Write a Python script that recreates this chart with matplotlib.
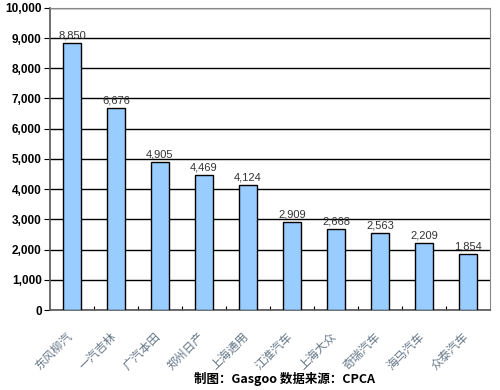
import matplotlib
matplotlib.use("Agg")
import matplotlib.pyplot as plt
from matplotlib.ticker import FuncFormatter
from matplotlib.transforms import offset_copy

plt.rcParams['font.family'] = ['Noto Sans CJK SC', 'DejaVu Sans']

brands = ["东风柳汽", "一汽吉林", "广汽本田", "郑州日产", "上海通用",
          "江淮汽车", "上海大众", "奇瑞汽车", "海马汽车", "众泰汽车"]
sales = [8850, 6676, 4905, 4469, 4124, 2909, 2668, 2563, 2209, 1854]

fig = plt.figure(figsize=(5, 3.9), dpi=100)
ax = fig.add_axes([0.1, 0.205, 0.88, 0.775])

x = range(len(brands))
ax.bar(x, sales, width=0.4, color="#99ccff", edgecolor="black", linewidth=1, zorder=3)
for i, v in enumerate(sales):
    ax.text(i, v + 80, f"{v:,}", ha="center", va="bottom", fontsize=8,
            color="#333333", family=["Liberation Sans", "DejaVu Sans"])

ax.set_xlim(-0.5, len(brands) - 0.5)
ax.set_ylim(0, 10000)
ax.set_yticks(range(0, 10001, 1000))
ax.yaxis.set_major_formatter(FuncFormatter(lambda v, p: f"{int(v):,}"))
ax.yaxis.grid(True, color="black", linewidth=1, zorder=0)
for lab in ax.get_yticklabels():
    lab.set_fontweight("bold")
    lab.set_fontsize(8.5)
    lab.set_family(["Liberation Sans", "DejaVu Sans"])
ax.tick_params(axis="y", length=4, pad=2)

ax.set_xticks([i + 0.5 for i in range(len(brands) - 1)], minor=False)
ax.set_xticklabels([])
ax.tick_params(axis="x", direction="in", length=3)
lab_tr = offset_copy(ax.get_xaxis_transform(), fig=fig, x=2, y=-14, units="points")
for i, b in enumerate(brands):
    ax.text(i, 0, b, rotation=45, ha="right", va="top", fontsize=8.5,
            color="#667788", transform=lab_tr)

for s in ["top", "right"]:
    ax.spines[s].set_color("#888888")
ax.spines["left"].set_color("#555555")
ax.spines["bottom"].set_color("#555555")
ax.spines["left"].set_linewidth(1.2)
ax.spines["bottom"].set_linewidth(1.2)

fig.text(0.57, 0.01, "制图：Gasgoo 数据来源：CPCA", ha="center", va="bottom",
         fontsize=9, fontweight="bold")

fig.savefig("out.png", dpi=100)
